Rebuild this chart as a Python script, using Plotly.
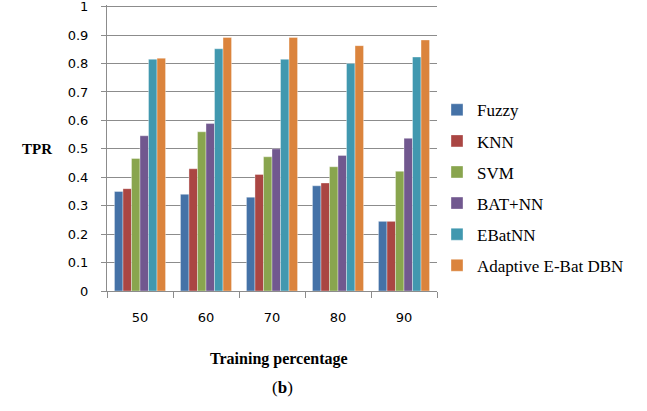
import plotly.graph_objects as go

categories = ["50", "60", "70", "80", "90"]
fuzzy = [0.35, 0.34, 0.33, 0.37, 0.245]
knn = [0.36, 0.43, 0.41, 0.38, 0.245]
svm = [0.466, 0.56, 0.472, 0.437, 0.421]
bat_nn = [0.546, 0.589, 0.50, 0.477, 0.537]
ebat_nn = [0.815, 0.852, 0.815, 0.80, 0.823]
adaptive = [0.819, 0.892, 0.892, 0.863, 0.883]

series_names = ["Fuzzy", "KNN", "SVM", "BAT+NN", "EBatNN", "Adaptive E-Bat DBN"]
series_values = [fuzzy, knn, svm, bat_nn, ebat_nn, adaptive]
colors = ["#4572A7", "#AA4643", "#89A54E", "#71588F", "#4198AF", "#DB843D"]

fig = go.Figure()
for name, vals, col in zip(series_names, series_values, colors):
    fig.add_trace(go.Bar(
        x=categories, y=vals, name=name, legendgroup=name,
        marker=dict(color=col, line=dict(color="rgba(255,255,255,0.6)", width=0.6)),
    ))

axis_col = "#8c8c8c"
fig.update_layout(
    width=647, height=411,
    margin=dict(l=107, r=210, t=5, b=120),
    paper_bgcolor="white", plot_bgcolor="white",
    barmode="group", bargap=0.226, bargroupgap=0,
    font=dict(family="Liberation Serif", color="black"),
    legend=dict(
        x=1.0, xanchor="left", y=0.695, yanchor="top",
        font=dict(family="Liberation Serif", size=17, color="black"),
        tracegroupgap=6, traceorder="grouped",
        bgcolor="rgba(0,0,0,0)",
    ),
    xaxis=dict(
        type="category", showline=True, linecolor=axis_col, linewidth=1,
        ticks="outside", tickson="boundaries", ticklen=6, tickcolor=axis_col,
        tickfont=dict(family="DejaVu Sans", size=13, color="black"),
        ticklabelstandoff=14, showgrid=False,
    ),
    yaxis=dict(
        range=[0, 1.006], tickvals=[0, 0.1, 0.2, 0.3, 0.4, 0.5, 0.6, 0.7, 0.8, 0.9, 1.0],
        ticktext=["0", "0.1", "0.2", "0.3", "0.4", "0.5", "0.6", "0.7", "0.8", "0.9", "1"],
        showline=True, linecolor=axis_col, linewidth=1,
        ticks="outside", ticklen=5, tickcolor=axis_col,
        showgrid=True, gridcolor=axis_col, gridwidth=1,
        tickfont=dict(family="DejaVu Sans", size=13, color="black"),
        ticklabelstandoff=10, zeroline=False, automargin=False,
        ticklabeloverflow="allow",
    ),
    annotations=[
        dict(text="<b>TPR</b>", xref="paper", yref="paper", x=-0.212, y=0.495,
             xanchor="center", yanchor="middle",
             showarrow=False, font=dict(family="Liberation Serif", size=15, color="black")),
        dict(text="<b>Training percentage</b>", xref="paper", yref="paper", x=0.52, y=-0.237,
             xanchor="center", yanchor="middle",
             showarrow=False, font=dict(family="Liberation Serif", size=16, color="black")),
        dict(text="(<b>b</b>)", xref="paper", yref="paper", x=0.533, y=-0.339,
             xanchor="center", yanchor="middle",
             showarrow=False, font=dict(family="Liberation Serif", size=17, color="black")),
    ],
)

fig.write_html("out.html", config={"displayModeBar": False})

with open("out.html", "r", encoding="utf-8") as f:
    html = f.read()
html = html.replace("<head>", "<head><style>html,body{margin:0;padding:0;overflow:hidden;}</style>", 1)
with open("out.html", "w", encoding="utf-8") as f:
    f.write(html)
